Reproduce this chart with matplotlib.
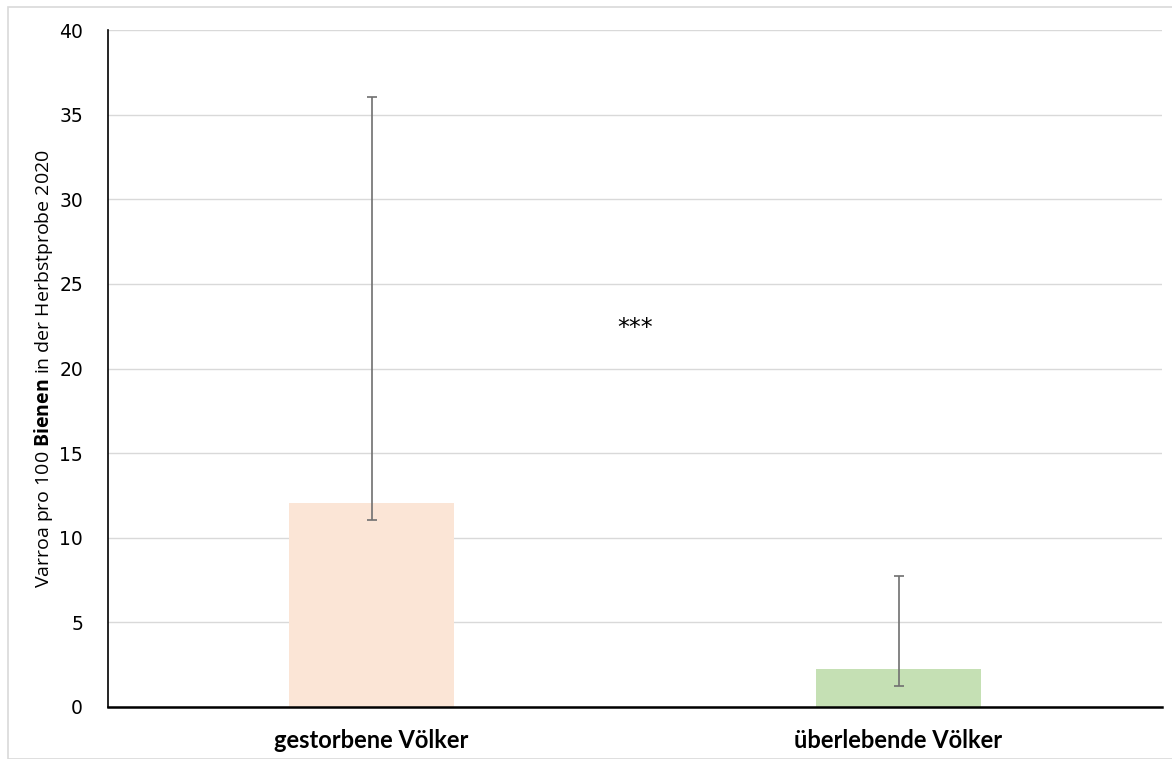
import matplotlib
matplotlib.use("Agg")
import matplotlib.pyplot as plt
from matplotlib.patches import Rectangle

# data
groups = ["gestorbene Völker", "überlebende Völker"]
means = [12.05, 2.25]
err_low = [11.05, 1.25]     # lower whisker end
err_high = [36.05, 7.75]    # upper whisker end
bar_colors = ["#FBE5D6", "#C5E0B4"]
y_ticks = [0, 5, 10, 15, 20, 25, 30, 35, 40]
sig_label = "***"

plt.rcParams["mathtext.fontset"] = "custom"
plt.rcParams["mathtext.bf"] = "Open Sans:bold"
plt.rcParams["mathtext.rm"] = "Open Sans"

fig = plt.figure(figsize=(11.72, 7.59), dpi=100)
ax = fig.add_axes([108 / 1172, 1 - 707 / 759, 1054 / 1172, 677 / 759])

xs = list(range(len(groups)))
ax.bar(xs, means, width=0.313, color=bar_colors, zorder=2)
lo = [m - l for m, l in zip(means, err_low)]
hi = [h - m for m, h in zip(means, err_high)]
ax.errorbar(xs, means, yerr=[lo, hi], fmt="none", ecolor="#707070",
            elinewidth=1.2, capsize=3.5, capthick=1.2, zorder=3)

ax.text(0.5, 22.4, sig_label, ha="center", va="center", fontsize=17,
        family="DejaVu Sans")

ax.set_xlim(-0.5, 1.5)
ax.set_ylim(0, 40)
ax.set_yticks(y_ticks)
ax.set_yticklabels([str(t) for t in y_ticks], family="DejaVu Sans", fontsize=13.5)
ax.set_xticks(xs)
ax.set_xticklabels(groups, family="Lato", fontweight="bold", fontsize=17)
ax.tick_params(axis="y", length=0, pad=18)
ax.tick_params(axis="x", length=0, pad=16)
ax.grid(axis="y", color="#d9d9d9", lw=1, zorder=0)
ax.set_axisbelow(True)
for s in ("top", "right"):
    ax.spines[s].set_visible(False)
ax.spines["left"].set_linewidth(1.2)
ax.spines["bottom"].set_linewidth(1.8)

ax.set_ylabel(r"Varroa pro 100 $\bf{Bienen}$ in der Herbstprobe 2020",
              family="Open Sans", fontsize=14, labelpad=3)

# light frame around the chart area
fig.patches.append(Rectangle((8 / 1172, 0), 1, 1 - 7 / 759, transform=fig.transFigure,
                             fill=False, ec="#d9d9d9", lw=1.2))

fig.savefig("out.png", dpi=100)
